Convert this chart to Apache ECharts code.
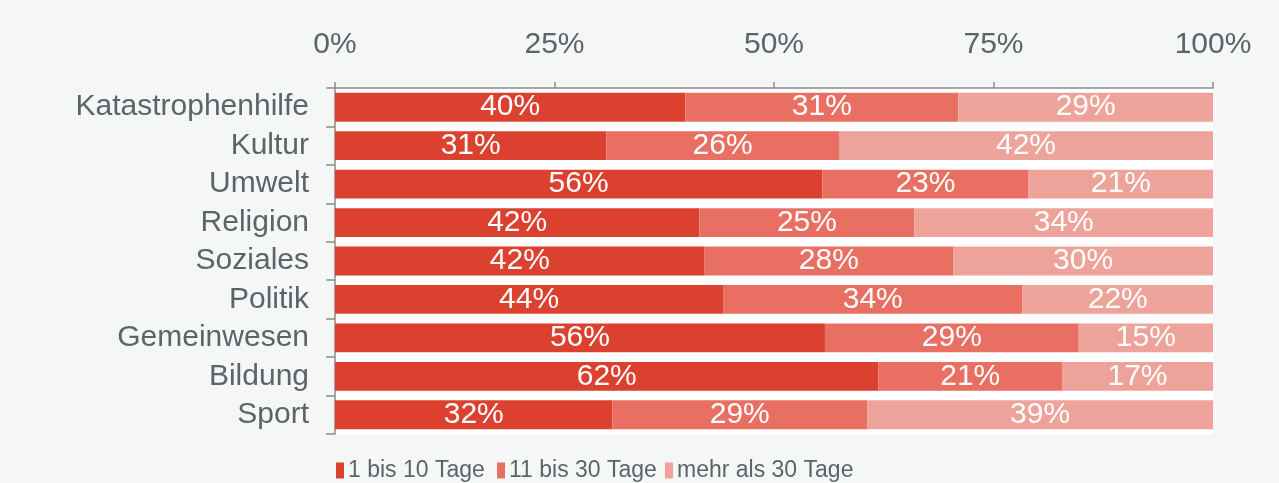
<!DOCTYPE html>
<html>
<head>
<meta charset="utf-8">
<style>
  html, body { margin: 0; padding: 0; background: #f5f7f6; }
  #main { width: 1279px; height: 483px; }
</style>
<script src="https://cdn.jsdelivr.net/npm/echarts@6/dist/echarts.min.js"></script>
</head>
<body>
<div id="main"></div>
<script>
// Bereiche (von oben nach unten)
var bereiche = ['Katastrophenhilfe', 'Kultur', 'Umwelt', 'Religion', 'Soziales', 'Politik', 'Gemeinwesen', 'Bildung', 'Sport'];
var serienNamen = ['1 bis 10 Tage', '11 bis 30 Tage', 'mehr als 30 Tage'];

// Balkenlaengen in %
var tage1bis10 = [39.9, 30.9, 55.5, 41.5, 42.1, 44.2, 55.8, 61.9, 31.6];
var tage11bis30 = [31.1, 26.5, 23.5, 24.5, 28.3, 34.1, 28.9, 20.9, 29.0];
var tageUeber30 = [29.0, 42.6, 21.0, 34.0, 29.6, 21.7, 15.3, 17.2, 39.4];

// Beschriftungen wie im Original
var label1 = [40, 31, 56, 42, 42, 44, 56, 62, 32];
var label2 = [31, 26, 23, 25, 28, 34, 29, 21, 29];
var label3 = [29, 42, 21, 34, 30, 22, 15, 17, 39];

var achsenTicks = [0, 25, 50, 75, 100];

var farben = ['#dc402e', '#e86f62', '#eea39a'];
var schrift = "'Liberation Sans', Arial, sans-serif";

var myChart = echarts.init(document.getElementById('main'));

function serie(name, werte, labels, farbe) {
    return {
        name: name,
        type: 'bar',
        stack: 'gesamt',
        barCategoryGap: '25%',
        data: werte,
        itemStyle: { color: farbe },
        label: {
            show: true,
            position: 'inside',
            color: '#ffffff',
            fontSize: 30,
            fontFamily: schrift,
            formatter: function (p) { return labels[p.dataIndex] + '%'; }
        }
    };
}

function legende(name, links) {
    return {
        data: [name],
        left: links,
        top: 454,
        icon: 'rect',
        itemWidth: 8,
        itemHeight: 16,
        itemGap: 0,
        textStyle: {
            color: '#5c6369',
            fontSize: 23,
            fontFamily: schrift,
            padding: [0, 0, 0, -1]
        }
    };
}

var option = {
    backgroundColor: '#f5f7f6',
    animation: false,
    legend: [
        legende(serienNamen[0], 331),
        legende(serienNamen[1], 492),
        legende(serienNamen[2], 660)
    ],
    grid: {
        left: 335,
        right: 66,
        top: 88,
        bottom: 49,
        show: true,
        backgroundColor: '#ffffff',
        borderWidth: 0
    },
    xAxis: {
        type: 'value',
        position: 'top',
        min: achsenTicks[0],
        max: achsenTicks[achsenTicks.length - 1],
        interval: 25,
        splitLine: { show: false },
        axisLine: { show: true, lineStyle: { color: '#8c8c8c', width: 1.5 } },
        axisTick: { show: true, length: 6, lineStyle: { color: '#8c8c8c', width: 1.5 } },
        axisLabel: {
            formatter: '{value}%',
            color: '#5c6369',
            fontSize: 30,
            fontFamily: schrift,
            margin: 28
        }
    },
    yAxis: {
        type: 'category',
        inverse: true,
        data: bereiche,
        offset: 2,
        axisLine: { show: true, lineStyle: { color: '#8c8c8c', width: 1.5 } },
        axisTick: { show: true, length: 9, interval: 0, lineStyle: { color: '#8c8c8c', width: 1.5 } },
        axisLabel: {
            interval: 0,
            color: '#5c6369',
            fontSize: 30,
            fontFamily: schrift,
            margin: 24
        }
    },
    series: [
        serie(serienNamen[0], tage1bis10, label1, farben[0]),
        serie(serienNamen[1], tage11bis30, label2, farben[1]),
        serie(serienNamen[2], tageUeber30, label3, farben[2])
    ]
};

myChart.setOption(option);
</script>
</body>
</html>
